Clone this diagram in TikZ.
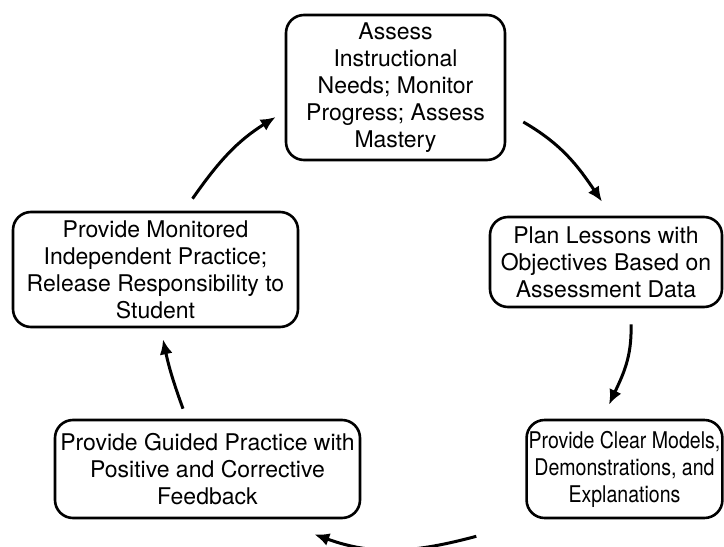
\documentclass[tikz,border=0pt]{standalone}
\usepackage{fontspec}
\setmainfont{TeX Gyre Heros}
\newfontfamily\narrowfont[FakeStretch=0.85]{TeX Gyre Heros}
\usetikzlibrary{arrows.meta}
\begin{document}
\begin{tikzpicture}[>={Latex[length=15pt,width=13pt]}, x=1pt, y=1pt]
\tikzset{
  stage/.style={draw, line width=2.6pt, rounded corners=18pt, align=center,
    inner sep=2pt, font=\fontsize{23}{27}\selectfont},
  cycle arrow/.style={->, line width=3pt}
}
\useasboundingbox (0,0) rectangle (724,547);

    \node (assess) at (395.5,459.5)[stage, minimum width=219pt, minimum height=145pt]
      {Assess\\Instructional\\Needs; Monitor\\Progress; Assess\\Mastery};
    \node (plan) at (606,285)[stage, minimum width=232pt, minimum height=90pt]
      {Plan Lessons with\\Objectives Based on\\Assessment Data};
    \node (models) at (624.5,78)[stage, minimum width=195pt, minimum height=98pt,
      font=\narrowfont\fontsize{23}{27}\selectfont]
      {Provide Clear Models,\\Demonstrations, and\\Explanations};
    \node (guided) at (207.5,78)[stage, minimum width=305pt, minimum height=98pt]
      {Provide Guided Practice with\\Positive and Corrective\\Feedback};
    \node (indep) at (155.5,277.5)[stage, minimum width=285pt, minimum height=115pt]
      {Provide Monitored\\Independent Practice;\\Release Responsibility to\\Student};

\draw[cycle arrow]([xshift=37pt,yshift=12pt]indep.north) to[out=55,in=212] ([xshift=-9pt,yshift=-29.5pt]assess.west);
\draw[cycle arrow]([xshift=17pt,yshift=-34.5pt]assess.east) to[out=-30,in=124] ([xshift=-4pt,yshift=14pt]plan.north);
\draw[cycle arrow]([xshift=25pt,yshift=-16pt]plan.south) to[out=-88,in=65] ([xshift=-15.5pt,yshift=14pt]models.north);
\draw[cycle arrow]([xshift=-49pt,yshift=-17pt]models.south west) to[out=195,in=-20] ([xshift=-47pt,yshift=-15pt]guided.south east);
\draw[cycle arrow]([xshift=-24.5pt,yshift=10pt]guided.north) to[out=110,in=-78] ([xshift=7.5pt,yshift=-11pt]indep.south);
\end{tikzpicture}
\end{document}
